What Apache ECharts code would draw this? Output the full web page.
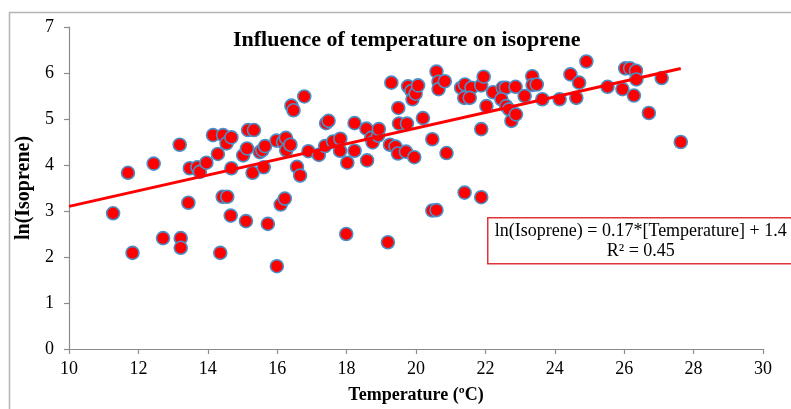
<!DOCTYPE html>
<html>
<head>
<meta charset="utf-8">
<script src="https://cdn.jsdelivr.net/npm/echarts@6/dist/echarts.min.js"></script>
<style>
  html, body { margin: 0; padding: 0; background: #ffffff; }
  #chart { width: 791px; height: 409px; }
</style>
</head>
<body>
<div id="chart"></div>
<script>
// Temperature (ºC) of each sample
const temperature = [
  11.27, 11.83, 12.71, 13.22, 13.22, 13.44, 14.36, 14.43, 14.56, 14.66, 15.10, 15.73, 15.99, 16.10, 16.22, 17.99, 19.19, 20.47, 20.59, 21.40, 21.88,
  11.70, 12.44, 13.19, 13.48, 13.70, 13.77, 13.96, 14.15, 14.29, 14.44, 14.54, 14.68, 14.68, 15.02, 15.13, 15.16, 15.33, 15.29, 15.50, 15.57, 15.61, 15.65,
  15.98, 16.17, 16.25, 16.26, 16.38, 16.41, 16.47, 16.57, 16.66, 16.78, 16.90, 17.20, 17.38, 17.41, 17.48, 17.61, 17.82, 17.81, 18.02, 18.23, 18.23, 18.57, 18.59, 18.71, 18.75, 18.91, 18.93,
  19.25, 19.29, 19.41, 19.49, 19.51, 19.48, 19.71, 19.74, 19.77, 19.87, 19.90, 19.99, 19.95, 20.06, 20.20, 20.47, 20.59, 20.65, 20.65, 20.83, 20.88,
  21.30, 21.41, 21.60, 21.39, 21.55, 21.88, 21.95, 21.88, 22.03, 22.22, 22.50, 22.59, 22.46, 22.60, 22.68, 22.75, 22.88, 22.87, 23.13, 23.35, 23.36, 23.48, 23.64,
  24.14, 24.45, 24.62, 24.70, 24.91, 25.52, 25.95, 26.03, 26.17, 26.34, 26.35, 26.28, 26.71, 27.08, 27.63
];

// ln(Isoprene) of each sample
const lnIsoprene = [
  2.95, 2.09, 2.41, 2.41, 2.20, 3.18, 2.09, 3.31, 3.31, 2.90, 2.78, 2.72, 1.80, 3.14, 3.27, 2.50, 2.32, 3.01, 3.02, 3.40, 3.30,
  3.83, 4.03, 4.44, 3.93, 3.95, 3.85, 4.05, 4.65, 4.24, 4.65, 4.47, 4.60, 3.93, 4.21, 4.36, 4.76, 4.76, 3.83, 4.28, 4.32, 3.95, 4.41,
  4.53, 4.50, 4.59, 4.32, 4.44, 5.29, 5.19, 3.96, 3.77, 5.49, 4.30, 4.22, 4.41, 4.91, 4.96, 4.51, 4.57, 4.31, 4.05, 4.91, 4.31, 4.79, 4.10, 4.59, 4.49, 4.64, 4.78,
  4.44, 5.79, 4.40, 5.24, 4.90, 4.25, 4.29, 4.90, 5.71, 5.61, 5.43, 5.55, 4.17, 5.73, 5.02, 4.56, 6.03, 5.81, 5.65, 5.82, 4.26,
  5.68, 5.75, 5.68, 5.46, 5.46, 5.73, 5.92, 4.78, 5.28, 5.58, 5.68, 5.68, 5.43, 5.28, 5.21, 4.96, 5.10, 5.70, 5.50, 5.93, 5.74, 5.75, 5.43,
  5.43, 5.97, 5.46, 5.79, 6.25, 5.70, 5.65, 6.10, 6.10, 6.05, 5.86, 5.51, 5.13, 5.89, 4.50
];

// Linear trend: ln(Isoprene) = slope * Temperature + intercept
const trendSlope = 0.17;
const trendIntercept = 1.4;
const trendRSquared = 0.45;

const xTicks = [10, 12, 14, 16, 18, 20, 22, 24, 26, 28, 30];
const yTicks = [0, 1, 2, 3, 4, 5, 6, 7];

const SERIF = "'Liberation Serif', 'Times New Roman', serif";

const points = temperature.map((t, i) => [t, lnIsoprene[i]]);
const trendFrom = xTicks[0];
const trendTo = Math.max(...temperature);
const trendLine = [trendFrom, trendTo].map(t => [t, trendSlope * t + trendIntercept]);

const chart = echarts.init(document.getElementById('chart'), null, { renderer: 'canvas' });

const axisLineStyle = { color: '#8c8c8c', width: 1.2 };

chart.setOption({
  animation: false,
  backgroundColor: '#ffffff',
  title: {
    text: 'Influence of temperature on isoprene',
    left: 233,
    top: 29,
    padding: 0,
    textStyle: { fontFamily: SERIF, fontSize: 22, fontWeight: 'bold', color: '#000' }
  },
  grid: { left: 69, right: 28, top: 27, bottom: 57, containLabel: false },
  xAxis: {
    type: 'value',
    min: xTicks[0],
    max: xTicks[xTicks.length - 1],
    interval: 2,
    name: 'Temperature (ºC)',
    nameLocation: 'middle',
    nameGap: 37,
    nameTextStyle: { fontFamily: SERIF, fontSize: 18, fontWeight: 'bold', color: '#000' },
    axisLine: { show: true, lineStyle: axisLineStyle },
    axisTick: { show: true, length: 5, lineStyle: axisLineStyle },
    axisLabel: { fontFamily: SERIF, fontSize: 18, color: '#000', margin: 11 },
    splitLine: { show: false }
  },
  yAxis: {
    type: 'value',
    min: yTicks[0],
    max: yTicks[yTicks.length - 1],
    interval: 1,
    name: 'ln(Isoprene)',
    nameLocation: 'middle',
    nameGap: 28,
    nameTextStyle: { fontFamily: SERIF, fontSize: 20, fontWeight: 'bold', color: '#000' },
    axisLine: { show: true, lineStyle: axisLineStyle },
    axisTick: { show: true, length: 5, lineStyle: axisLineStyle },
    axisLabel: { fontFamily: SERIF, fontSize: 18, color: '#000', margin: 15 },
    splitLine: { show: false }
  },
  series: [
    {
      name: 'Samples',
      type: 'scatter',
      data: points,
      symbol: 'circle',
      symbolSize: 13,
      itemStyle: { color: '#ff0000', borderColor: '#4a90c8', borderWidth: 1.6, opacity: 1 },
      z: 2
    },
    {
      name: 'Trend',
      type: 'line',
      data: trendLine,
      showSymbol: false,
      symbol: 'none',
      lineStyle: { color: '#ff0000', width: 3 },
      z: 3
    }
  ],
  graphic: [
    {
      type: 'rect',
      left: 7, top: 10,
      shape: { width: 820, height: 420 },
      style: { fill: 'none', stroke: '#b4b4b4', lineWidth: 1.5 },
      silent: true, z: -1
    },
    {
      type: 'group',
      left: 487, top: 217,
      children: [
        {
          type: 'rect',
          shape: { x: 0, y: 0, width: 330, height: 46 },
          style: { fill: '#ffffff', stroke: '#e0343a', lineWidth: 1.5 }
        },
        {
          type: 'text',
          x: 153, y: 14,
          style: {
            text: 'ln(Isoprene) = ' + trendSlope + '*[Temperature] + ' + trendIntercept,
            font: '18px ' + SERIF, fill: '#000', align: 'center', verticalAlign: 'middle'
          }
        },
        {
          type: 'text',
          x: 153, y: 34,
          style: {
            text: 'R² = ' + trendRSquared,
            font: '18px ' + SERIF, fill: '#000', align: 'center', verticalAlign: 'middle'
          }
        }
      ]
    }
  ]
});
</script>
</body>
</html>
